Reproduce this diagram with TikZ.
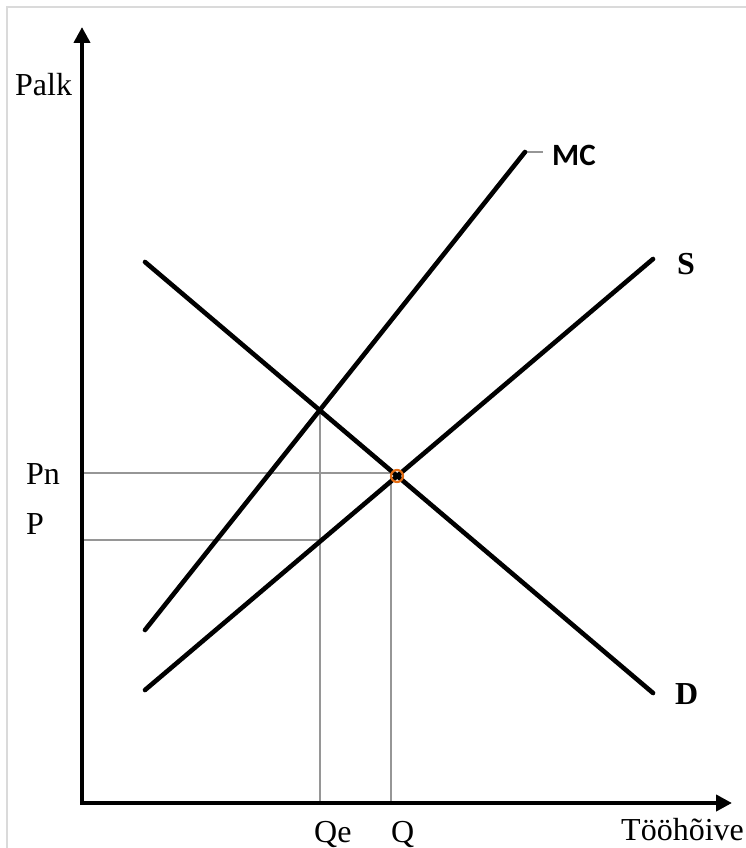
\documentclass[tikz,border=0pt]{standalone}
\usepackage{fontspec}
\setmainfont{Liberation Serif}
\newfontfamily\calib{Carlito}
\usetikzlibrary{arrows.meta}
\definecolor{gridgray}{RGB}{150,150,150}
\definecolor{framegray}{RGB}{218,218,218}
\definecolor{eqorange}{RGB}{230,110,20}
\begin{document}
\begin{tikzpicture}[x=1pt,y=-1pt,
  curve/.style={line width=4.6pt,line cap=round},
  guide/.style={gridgray,line width=1.1pt},
  axis/.style={line width=4pt,{Triangle[width=16pt,length=16pt]}-{Triangle[width=16pt,length=16pt]}},
  lab/.style={font=\fontsize{32}{34}\selectfont,anchor=base west,inner sep=0pt},
  blab/.style={font=\fontsize{32}{34}\selectfont\bfseries,anchor=base west,inner sep=0pt}]
\useasboundingbox (0,0) rectangle (746,848);
% frame
\draw[framegray,line width=1.8pt] (7,848) -- (7,7) -- (746,7);
% coordinates
\coordinate (ytip) at (82,27);
\coordinate (origin) at (82,803);
\coordinate (xtip) at (732,803);
\coordinate (mc1) at (145,630);
\coordinate (mc2) at (525,152);
\coordinate (mctick) at (543,152);
\coordinate (s1) at (145,690);
\coordinate (s2) at (653,259);
\coordinate (d1) at (145,262);
\coordinate (d2) at (653,693);
\coordinate (eq) at (397,476);
\coordinate (pnl) at (82,473);
\coordinate (pnr) at (391,473);
\coordinate (qtop) at (391,473);
\coordinate (qbot) at (391,803);
\coordinate (pl) at (82,540);
\coordinate (pr) at (320,540);
\coordinate (qetop) at (320,410);
\coordinate (qebot) at (320,803);
% guides
\draw[guide] (pnl) -- (pnr);
\draw[guide] (qtop) -- (qbot);
\draw[guide] (pl) -- (pr);
\draw[guide] (qetop) -- (qebot);
\draw[guide] (mc2) -- (mctick);
% curves
\draw[curve] (mc1) -- (mc2);
\draw[curve] (s1) -- (s2);
\draw[curve] (d1) -- (d2);
% axes
\draw[axis] (ytip) -- (origin) -- (xtip);
% equilibrium
\draw[eqorange,line width=2.2pt] (eq) circle[radius=6pt];
% labels
\node[lab] (palk) at (15,96) {Palk};
\node[lab] (pn) at (26,484) {Pn};
\node[lab] (p) at (26,534) {P};
\node[lab] (qe) at (314,842) {Qe};
\node[lab] (q) at (391,842) {Q};
\node[lab] (too) at (621,840) {Tööhõive};
\node[blab,font=\fontsize{31}{33}\selectfont\calib\bfseries] (mc) at (552,165) {MC};
\node[blab] (s) at (677,274) {S};
\node[blab] (d) at (675,704) {D};
\end{tikzpicture}
\end{document}
